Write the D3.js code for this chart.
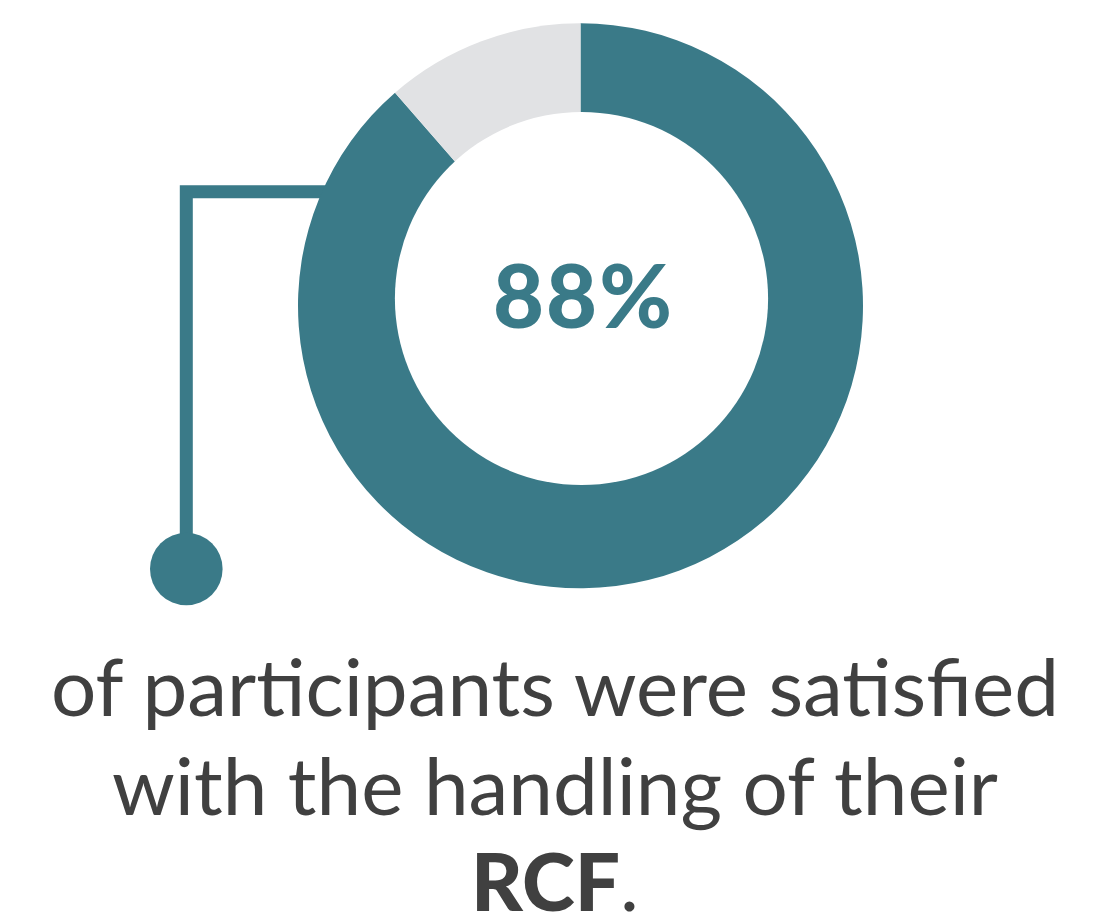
<!DOCTYPE html>
<html>
<head>
<meta charset="utf-8">
<script src="https://cdn.jsdelivr.net/npm/d3@7"></script>
<style>
  html, body { margin: 0; padding: 0; background: #fff; }
  svg { display: block; }
  .caption { font-family: Lato, "Open Sans", sans-serif; fill: #404040; }
</style>
</head>
<body>
<svg id="chart"></svg>
<script>
(function() {
	"use strict";

	var width = 1113, height = 918;

	// slices (label is rounded in the original)
	var categories = ["Satisfied", "Not satisfied"];
	var shares = [88.6, 11.4];
	var colors = ["#3a7a88", "#e1e2e4"];
	var bigLabel = "88%";
	var captionLines = [
		{ text: "of participants were satisfied", bold: false },
		{ text: "with the handling of their", bold: false },
		{ text: "RCF", bold: true, tail: "." }
	];

	var svg = d3.select("#chart").attr("width", width).attr("height", height);

	var ring = { cx: 580.5, cy: 305.8, outer: 282.5 };
	var hole = { cx: 581.5, cy: 298.5, r: 186.6 };

	// connector line + dot, drawn first so the ring sits on top
	svg.append("path")
		.attr("d", "M" + (ring.cx - 220) + "," + 191.7 + "H186.3V569")
		.attr("fill", "none")
		.attr("stroke", colors[0])
		.attr("stroke-width", 13)
		.attr("stroke-linejoin", "miter");

	svg.append("circle")
		.attr("cx", 186.3).attr("cy", 569).attr("r", 36.3)
		.attr("fill", colors[0]);

	var pie = d3.pie().sort(null).value(function(d) { return d; });
	var arc = d3.arc().innerRadius(0).outerRadius(ring.outer);

	var g = svg.append("g").attr("transform", "translate(" + ring.cx + "," + ring.cy + ")");
	g.selectAll("path.slice")
		.data(pie(shares))
		.enter().append("path")
		.attr("class", "slice")
		.attr("d", arc)
		.attr("fill", function(d, i) { return colors[i]; })
		.append("title").text(function(d, i) { return categories[i]; });

	// the hole sits a little above the ring centre in the original
	svg.append("circle")
		.attr("cx", hole.cx).attr("cy", hole.cy).attr("r", hole.r)
		.attr("fill", "#fff");

	svg.append("text")
		.attr("x", 583.5).attr("y", 328)
		.attr("text-anchor", "middle")
		.style("font-family", "Lato, sans-serif")
		.style("font-weight", 900)
		.style("font-size", "88px")
		.style("letter-spacing", "2px")
		.attr("fill", colors[0])
		.text(bigLabel);

	var baselines = [716, 815, 911];
	var cap = svg.selectAll("text.caption")
		.data(captionLines)
		.enter().append("text")
		.attr("class", "caption")
		.attr("x", 555)
		.attr("y", function(d, i) { return baselines[i]; })
		.attr("text-anchor", "middle")
		.style("font-size", "80px");

	cap.append("tspan")
		.style("font-weight", function(d) { return d.bold ? 900 : 400; })
		.text(function(d) { return d.text; });
	cap.filter(function(d) { return d.tail; })
		.append("tspan")
		.style("font-weight", 400)
		.text(function(d) { return d.tail; });
})();
</script>
</body>
</html>
